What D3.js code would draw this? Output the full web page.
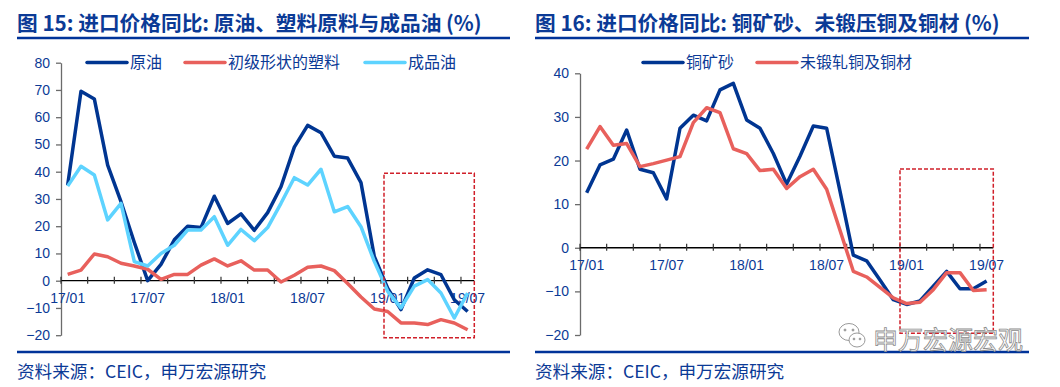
<!DOCTYPE html>
<html>
<head>
<meta charset="utf-8">
<script src="https://cdn.jsdelivr.net/npm/d3@7/dist/d3.min.js"></script>
<style>
  body { margin: 0; background: #fff; }
  svg { display: block; }
</style>
</head>
<body>
<div id="chart"></div>
<script>
// month categories, shared by both panels
var months = ["17/01","17/02","17/03","17/04","17/05","17/06","17/07","17/08","17/09","17/10","17/11","17/12",
              "18/01","18/02","18/03","18/04","18/05","18/06","18/07","18/08","18/09","18/10","18/11","18/12",
              "19/01","19/02","19/03","19/04","19/05","19/06","19/07"];
var monthLabels = ["17/01","17/07","18/01","18/07","19/01","19/07"];

// 图15
var crudeOil = [35, 69.5, 66.7, 42.4, 29, 14, 0, 6, 15, 20, 19.5, 31, 21, 24.5, 18.5, 25, 34.5, 49, 57, 54.3, 45.7, 45, 36, 8.9, -2.7, -10.6, 1, 4, 2.2, -7, -11.3];
var plastics = [2.3, 3.9, 9.8, 8.8, 6.4, 5.4, 4.2, 0.5, 2.3, 2.3, 5.7, 8, 5.4, 7.3, 3.9, 3.9, -0.5, 2, 4.9, 5.4, 3.7, -1, -6, -10.4, -11.3, -15.5, -15.5, -16.1, -14.3, -15.5, -18];
var refined = [34.7, 42, 38.8, 22.3, 28.4, 7, 5.4, 10, 13, 18.6, 18.6, 23.5, 13, 18.8, 14.7, 19.5, 28.4, 37.8, 35.1, 40.9, 25.3, 27.2, 19.8, 7.1, -3.9, -10, -2, 0.4, -4.5, -13.7, -4.5];
var leftTicks = [-20, -10, 0, 10, 20, 30, 40, 50, 60, 70, 80];

// 图16
var copperOre = [12.6, 19, 20.3, 27, 18, 17.2, 11.2, 27.4, 30.4, 29.1, 36.2, 37.7, 29.3, 27.4, 21.6, 14.6, 21, 27.9, 27.4, 13, -1.7, -3, -7.4, -11.9, -13, -12.2, -8.8, -5.4, -9.4, -9.4, -7.6];
var copperProd = [22.6, 27.8, 23.5, 23.9, 18.6, 19.3, 20.1, 20.9, 28.7, 32.1, 31, 22.7, 21.6, 17.7, 18, 13.6, 16.3, 18, 13.4, 4, -5.4, -6.7, -9.1, -11.5, -12.8, -12.5, -9.6, -5.7, -5.7, -9.8, -9.6];
var rightTicks = [-20, -10, 0, 10, 20, 30, 40];

var navy = "#003591", red = "#e8605c", sky = "#5dd3ff";
var textBlue = "#0b3a96";

var svg = d3.select("#chart").append("svg")
  .attr("width", 1060)
  .attr("height", 387);

svg.append("rect").attr("width", 1060).attr("height", 387).attr("fill", "#fff");

var panels = [
  {
    title: "图 15: 进口价格同比: 原油、塑料原料与成品油 (%)",
    left: 17, right: 510,
    xRange: [61, 474.3], yDomain: [-20, 80], yRange: [335.2, 62.7], ticks: leftTicks,
    series: [
      {name: "原油", values: crudeOil, color: navy},
      {name: "初级形状的塑料", values: plastics, color: red},
      {name: "成品油", values: refined, color: sky}
    ],
    legendX: [87, 185, 365],
    box: {x0: 384, x1: 474.3, y0: 173.3, y1: 337.7}
  },
  {
    title: "图 16: 进口价格同比: 铜矿砂、未锻压铜及铜材 (%)",
    left: 535, right: 1029,
    xRange: [580, 993.3], yDomain: [-20, 40], yRange: [335, 73.3], ticks: rightTicks,
    series: [
      {name: "铜矿砂", values: copperOre, color: navy},
      {name: "未锻轧铜及铜材", values: copperProd, color: red}
    ],
    legendX: [643, 757],
    box: {x0: 900, x1: 993.3, y0: 169, y1: 333.3}
  }
];

panels.forEach(function(p) {
  // title and rules
  svg.append("text")
    .attr("x", p.left)
    .attr("y", 31)
    .attr("font-family", "'Noto Sans CJK SC', 'Noto Sans', sans-serif")
    .attr("font-size", 20.7)
    .attr("font-weight", "bold")
    .attr("fill", textBlue)
    .text(p.title);

  svg.append("line")
    .attr("x1", p.left).attr("x2", p.right)
    .attr("y1", 38).attr("y2", 38)
    .attr("stroke", "#003399").attr("stroke-width", 2.5);

  svg.append("line")
    .attr("x1", p.left).attr("x2", p.right)
    .attr("y1", 352).attr("y2", 352)
    .attr("stroke", "#003399").attr("stroke-width", 2.5);

  svg.append("text")
    .attr("x", p.left)
    .attr("y", 378)
    .attr("font-family", "'Noto Sans CJK SC', sans-serif")
    .attr("font-size", 17.6)
    .attr("fill", textBlue)
    .text("资料来源：CEIC，申万宏源研究");

  var x = d3.scaleBand().domain(months).range(p.xRange).paddingInner(0).paddingOuter(0);
  var y = d3.scaleLinear().domain(p.yDomain).range(p.yRange);
  var bw = x.bandwidth();

  // y axis
  var yAxis = svg.append("g")
    .attr("transform", "translate(" + p.xRange[0] + ",0)")
    .call(d3.axisLeft(y).tickValues(p.ticks).tickSize(5).tickPadding(6).tickSizeOuter(0));
  yAxis.select(".domain").attr("stroke", "#6b6b6b").attr("stroke-width", 1.3);
  yAxis.selectAll(".tick line").attr("stroke", "#6b6b6b").attr("stroke-width", 1.3);
  yAxis.selectAll(".tick text")
    .attr("fill", textBlue)
    .attr("font-family", "'Liberation Sans', Arial, sans-serif")
    .attr("font-size", 14);

  // x axis along zero
  var y0 = y(0);
  svg.append("line")
    .attr("x1", p.xRange[0]).attr("x2", p.xRange[1])
    .attr("y1", y0).attr("y2", y0)
    .attr("stroke", "#000").attr("stroke-width", 1.3);

  var tickMonths = months.filter(function(d, i) { return i % 2 == 0; });
  svg.selectAll(null)
    .data(tickMonths)
    .enter()
    .append("line")
    .attr("x1", function(d) { return x(d); })
    .attr("x2", function(d) { return x(d); })
    .attr("y1", y0 - 4).attr("y2", y0 + 3)
    .attr("stroke", "#333").attr("stroke-width", 1.2);

  svg.selectAll(null)
    .data(monthLabels)
    .enter()
    .append("text")
    .attr("x", function(d) { return x(d) + bw / 2; })
    .attr("y", y0 + 22)
    .attr("text-anchor", "middle")
    .attr("font-family", "'Liberation Sans', Arial, sans-serif")
    .attr("font-size", 14)
    .attr("fill", textBlue)
    .text(function(d) { return d; });

  // lines
  var line = d3.line()
    .x(function(d, i) { return x(months[i]) + bw / 2; })
    .y(function(d) { return y(d); });

  p.series.forEach(function(s) {
    svg.append("path")
      .datum(s.values)
      .attr("d", line)
      .attr("fill", "none")
      .attr("stroke", s.color)
      .attr("stroke-width", 3.5)
      .attr("stroke-linejoin", "round");
  });

  // legend
  p.series.forEach(function(s, i) {
    var lx = p.legendX[i];
    svg.append("line")
      .attr("x1", lx).attr("x2", lx + 40)
      .attr("y1", 62.5).attr("y2", 62.5)
      .attr("stroke", s.color).attr("stroke-width", 3.5)
      .attr("stroke-linecap", "round");
    svg.append("text")
      .attr("x", lx + 43)
      .attr("y", 68)
      .attr("font-family", "'Noto Sans CJK SC', sans-serif")
      .attr("font-size", 16)
      .attr("fill", textBlue)
      .text(s.name);
  });

  // dashed highlight box
  svg.append("rect")
    .attr("x", p.box.x0).attr("y", p.box.y0)
    .attr("width", p.box.x1 - p.box.x0)
    .attr("height", p.box.y1 - p.box.y0)
    .attr("fill", "none")
    .attr("stroke", "#d0202a")
    .attr("stroke-width", 1.5)
    .attr("stroke-dasharray", "4,2");
});

// watermark
var wm = svg.append("g").attr("fill", "#fff").attr("stroke", "#9a9a9a").attr("stroke-width", 1);
wm.append("ellipse").attr("cx", 849).attr("cy", 332).attr("rx", 10).attr("ry", 8.5);
wm.append("ellipse").attr("cx", 857).attr("cy", 340).attr("rx", 8).attr("ry", 7);
wm.append("circle").attr("cx", 845).attr("cy", 330).attr("r", 1).attr("fill", "#9a9a9a");
wm.append("circle").attr("cx", 853).attr("cy", 330).attr("r", 1).attr("fill", "#9a9a9a");
wm.append("circle").attr("cx", 854).attr("cy", 339).attr("r", 0.9).attr("fill", "#9a9a9a");
wm.append("circle").attr("cx", 860).attr("cy", 339).attr("r", 0.9).attr("fill", "#9a9a9a");
svg.append("text")
  .attr("x", 873)
  .attr("y", 349)
  .attr("font-family", "'Noto Sans CJK SC', sans-serif")
  .attr("font-size", 25)
  .attr("fill", "#ffffff")
  .attr("stroke", "#8c8c8c")
  .attr("stroke-width", 0.8)
  .text("申万宏源宏观");
</script>
</body>
</html>
